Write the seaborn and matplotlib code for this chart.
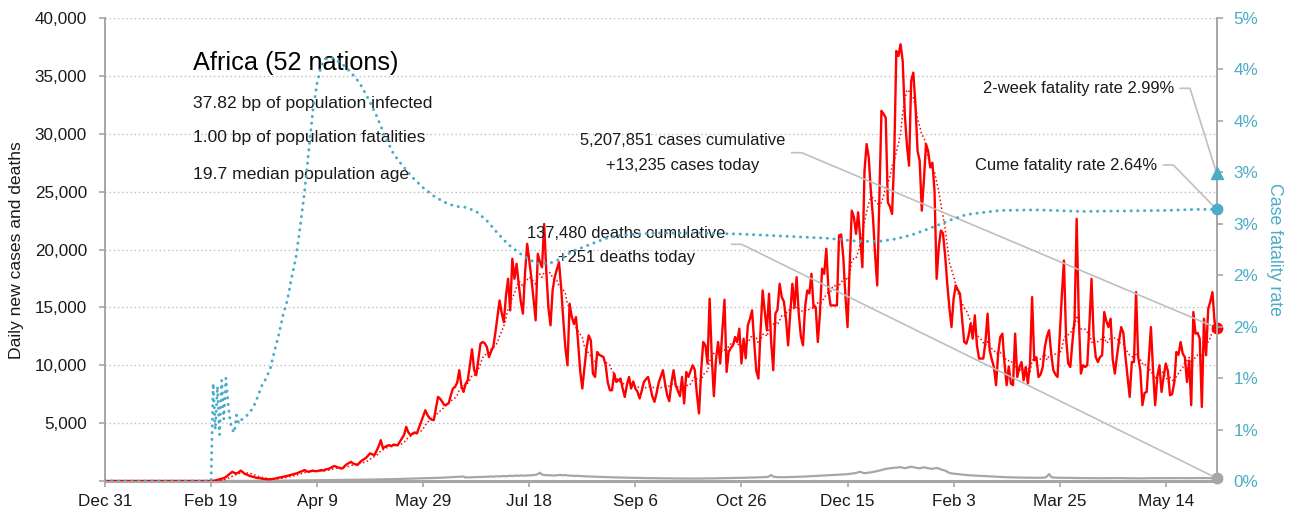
import math
import numpy as np
import pandas as pd
import matplotlib
matplotlib.use("Agg")
import matplotlib.pyplot as plt
import matplotlib.dates as mdates
from matplotlib.ticker import FixedLocator, FuncFormatter
import seaborn as sns

# ---------------------------------------------------------------- data
START = pd.Timestamp("2019-12-31")
QUIET_DAYS = 50          # days from Dec 31 with no reported cases

# daily new cases (thousands), from Feb 19 2020 onwards
cases_k = [
    0.0, 0.02, 0.05, 0.1, 0.15, 0.2, 0.25, 0.35, 0.5, 0.65,
    0.8, 0.7, 0.65, 0.75, 0.9, 0.75, 0.6, 0.55, 0.45, 0.4,
    0.35, 0.3, 0.25, 0.25, 0.2, 0.18, 0.17, 0.15, 0.16, 0.18,
    0.2, 0.25, 0.3, 0.32, 0.37, 0.4, 0.45, 0.5, 0.55, 0.6,
    0.65, 0.7, 0.8, 0.85, 0.95, 0.85, 0.8, 0.85, 0.9, 0.85,
    0.86, 0.9, 0.95, 0.9, 1.0, 1.03, 1.1, 1.2, 1.3, 1.23,
    1.15, 1.1, 1.09, 1.3, 1.45, 1.55, 1.66, 1.5, 1.45, 1.38,
    1.6, 1.75, 1.87, 2.0, 2.2, 2.39, 2.3, 2.24, 2.6, 3.0,
    3.53, 2.84, 2.95, 3.05, 3.1, 3.0, 3.15, 3.1, 3.1, 3.4,
    3.7, 4.0, 4.68, 4.2, 3.96, 4.1, 4.2, 4.11, 4.6, 5.11,
    5.6, 6.12, 5.7, 5.43, 5.3, 5.26, 6.3, 7.27, 7.1, 6.84,
    6.55, 6.6, 6.72, 7.4, 7.99, 8.13, 8.5, 9.57, 8.2, 7.7,
    8.4, 8.71, 10.0, 11.38, 9.6, 9.14, 10.5, 11.87, 12.01, 11.9,
    11.58, 10.71, 11.2, 11.58, 12.8, 14.2, 15.6, 14.5, 13.73, 16.0,
    17.47, 14.74, 19.2, 17.47, 18.77, 17.04, 15.5, 14.46, 18.0, 20.49,
    19.05, 17.5, 15.7, 13.88, 19.63, 18.9, 18.47, 22.21, 18.19, 15.0,
    13.45, 16.5, 17.61, 18.3, 18.9, 16.75, 14.0, 11.5, 10.0, 15.32,
    14.2, 13.59, 14.16, 12.0, 9.5, 7.99, 9.8, 11.5, 12.58, 12.15,
    9.28, 8.99, 11.15, 10.9, 10.8, 10.71, 10.0, 8.5, 7.84, 7.84,
    9.28, 8.56, 8.7, 8.85, 8.0, 7.27, 8.3, 8.99, 7.99, 8.6,
    8.0, 7.7, 7.13, 7.8, 8.56, 8.8, 8.99, 8.13, 7.3, 6.84,
    7.6, 8.5, 9.05, 9.57, 8.42, 7.4, 6.9, 8.5, 9.57, 8.28,
    7.8, 7.33, 8.99, 6.7, 9.42, 9.0, 9.5, 10.0, 9.6, 7.5,
    5.84, 9.5, 12.01, 11.72, 10.15, 15.75, 10.71, 7.33, 10.5, 12.01,
    10.15, 13.0, 15.66, 9.42, 11.15, 11.5, 11.72, 12.44, 12.0, 13.16,
    10.15, 12.3, 10.6, 13.45, 14.0, 14.74, 12.01, 9.5, 8.85, 13.0,
    16.46, 14.6, 13.02, 16.18, 12.0, 9.57, 14.46, 14.8, 17.04, 15.89,
    15.5, 14.0, 11.72, 14.5, 17.04, 15.0, 17.61, 14.46, 12.5, 11.72,
    15.02, 16.46, 16.2, 17.9, 15.02, 15.02, 12.01, 14.46, 18.34, 17.9,
    20.06, 16.5, 15.17, 15.17, 15.17, 15.17, 21.21, 21.3, 19.34, 16.0,
    13.3, 18.5, 23.36, 22.8, 21.35, 23.21, 21.0, 18.47, 26.81, 29.11,
    27.95, 25.0, 22.78, 19.5, 16.9, 24.5, 31.98, 31.7, 31.4, 24.08,
    23.7, 23.07, 27.95, 37.15, 36.72, 37.73, 36.29, 31.69, 29.0, 27.24,
    34.57, 35.28, 32.56, 28.53, 27.67, 23.36, 26.0, 29.11, 28.5, 27.09,
    27.5, 25.08, 17.47, 20.2, 21.64, 21.4, 19.5, 17.04, 15.0, 13.3,
    15.75, 16.9, 16.5, 16.18, 14.0, 12.01, 11.87, 12.5, 13.59, 12.3,
    14.31, 11.72, 10.58, 10.58, 10.58, 12.0, 14.46, 11.29, 10.5, 9.85,
    8.28, 11.0, 12.44, 12.73, 10.15, 8.28, 9.9, 8.42, 8.28, 12.73,
    8.99, 9.8, 10.28, 8.7, 9.85, 8.42, 10.1, 15.89, 10.43, 10.7,
    8.99, 9.2, 9.85, 11.58, 12.5, 13.02, 11.01, 9.57, 9.2, 8.99,
    12.58, 16.0, 19.05, 12.44, 10.15, 9.85, 12.0, 13.88, 22.65, 14.16,
    9.28, 10.0, 9.85, 10.0, 13.5, 17.47, 12.5, 10.71, 10.28, 10.7,
    10.86, 14.6, 13.8, 13.3, 14.02, 10.5, 9.28, 10.8, 12.15, 13.3,
    12.8, 10.71, 9.0, 7.27, 10.28, 10.28, 16.32, 10.71, 9.57, 6.55,
    7.6, 7.7, 10.5, 13.3, 9.57, 6.55, 9.0, 10.0, 7.7, 9.0,
    10.15, 9.5, 7.41, 7.5, 8.5, 11.15, 10.9, 12.01, 11.01, 10.7,
    8.56, 10.4, 6.55, 14.6, 12.73, 12.8, 12.3, 6.4, 14.02, 10.86,
    14.88, 15.5, 16.32, 13.73, 13.235,
]

# daily new deaths, same days
deaths = [
    0, 0, 0, 0, 0, 0, 0, 0, 0, 0,
    0, 1, 1, 1, 2, 2, 3, 3, 4, 5,
    5, 6, 7, 8, 9, 10, 12, 14, 15, 17,
    20, 22, 25, 27, 30, 32, 35, 38, 40, 42,
    45, 47, 50, 52, 55, 57, 60, 60, 62, 65,
    65, 68, 70, 72, 75, 75, 78, 80, 82, 85,
    85, 88, 90, 92, 95, 98, 100, 100, 105, 108,
    110, 112, 115, 118, 120, 125, 128, 130, 135, 138,
    140, 145, 148, 150, 155, 160, 165, 170, 175, 180,
    180, 185, 190, 195, 200, 205, 210, 215, 220, 225,
    230, 235, 240, 245, 250, 255, 260, 270, 280, 290,
    300, 310, 320, 330, 340, 350, 360, 370, 380, 390,
    300, 320, 310, 330, 340, 335, 350, 360, 345, 370,
    360, 380, 390, 370, 400, 410, 395, 420, 430, 410,
    440, 450, 430, 460, 470, 450, 480, 470, 460, 490,
    480, 500, 520, 540, 600, 715, 560, 520, 500, 510,
    490, 480, 470, 500, 520, 510, 500, 520, 480, 470,
    460, 450, 440, 455, 430, 420, 410, 400, 395, 390,
    380, 370, 365, 360, 350, 345, 340, 335, 330, 320,
    315, 310, 305, 300, 300, 295, 290, 285, 280, 280,
    275, 270, 265, 260, 260, 255, 250, 250, 245, 245,
    240, 240, 235, 235, 230, 230, 230, 225, 225, 220,
    220, 220, 215, 215, 215, 210, 210, 210, 210, 210,
    215, 215, 220, 220, 225, 225, 230, 230, 235, 240,
    240, 245, 250, 250, 255, 260, 260, 265, 270, 270,
    275, 280, 280, 285, 290, 295, 300, 305, 310, 320,
    330, 340, 350, 400, 520, 380, 350, 340, 330, 330,
    330, 335, 340, 345, 350, 355, 360, 365, 370, 380,
    390, 400, 410, 420, 430, 440, 450, 460, 470, 480,
    490, 500, 510, 520, 530, 540, 550, 560, 570, 580,
    600, 620, 640, 660, 700, 750, 800, 720, 680, 700,
    720, 750, 780, 820, 860, 900, 950, 1000, 1050, 1080,
    1100, 1120, 1150, 1150, 1180, 1200, 1150, 1100, 1150, 1200,
    1230, 1200, 1150, 1120, 1100, 1150, 1180, 1150, 1100, 1080,
    1050, 1100, 1120, 1090, 1000, 950, 900, 800, 700, 660,
    640, 620, 600, 580, 560, 540, 520, 500, 490, 480,
    470, 460, 450, 440, 430, 420, 410, 400, 390, 380,
    370, 360, 350, 340, 330, 325, 320, 315, 310, 305,
    300, 300, 295, 295, 290, 290, 285, 285, 280, 280,
    280, 285, 290, 300, 400, 600, 350, 300, 290, 285,
    280, 280, 275, 275, 270, 270, 265, 265, 260, 260,
    260, 255, 255, 250, 250, 250, 245, 245, 245, 240,
    240, 240, 245, 245, 250, 250, 255, 255, 250, 250,
    245, 245, 240, 240, 235, 235, 230, 230, 230, 235,
    235, 240, 240, 245, 245, 250, 250, 250, 245, 245,
    240, 240, 245, 245, 250, 250, 255, 255, 250, 250,
    245, 245, 250, 250, 255, 255, 260, 260, 255, 255,
    250, 250, 255, 255, 251,
]

# case fatality rate (%), by day offset from Dec 31 2019
cfr_day = [
    0, 50, 51, 52, 53, 54, 55, 56, 57, 58, 59, 60, 61, 62, 63, 64,
    66, 68, 70, 72, 74, 76, 78, 80, 82, 84, 86, 88, 90, 92, 94, 96, 98,
    100, 102, 104, 106, 109, 112, 116, 120, 124, 128, 132, 136, 140,
    145, 150, 155, 160, 165, 170, 175, 180, 185, 190, 195, 200, 205, 210,
    215, 220, 225, 230, 235, 240, 250, 260, 280, 300, 320, 340, 355, 365,
    372, 380, 388, 393, 399, 406, 414, 422, 440, 460, 480, 500, 515, 524,
]
cfr_pct = [
    0, 0, 0.95, 0.5, 0.92, 0.45, 0.98, 0.6, 1.0, 0.76, 0.58, 0.5, 0.47, 0.64, 0.56, 0.59,
    0.62, 0.66, 0.72, 0.82, 0.93, 1.0, 1.1, 1.27, 1.43, 1.62, 1.76, 1.98, 2.17, 2.47, 2.8, 3.2, 3.6,
    3.87, 4.04, 4.1, 4.12, 4.09, 4.05, 3.97, 3.87, 3.72, 3.55, 3.35, 3.18, 3.07,
    2.95, 2.85, 2.77, 2.71, 2.67, 2.66, 2.62, 2.53, 2.41, 2.30, 2.22, 2.15, 2.11, 2.12,
    2.16, 2.23, 2.27, 2.31, 2.35, 2.38, 2.40, 2.41, 2.41, 2.40, 2.38, 2.36, 2.33, 2.33,
    2.35, 2.39, 2.45, 2.49, 2.54, 2.59, 2.61, 2.63, 2.635, 2.62, 2.625, 2.63, 2.64, 2.64,
]

region_title = "Africa (52 nations)"
region_facts = [
    "37.82 bp of population infected",
    "1.00 bp of population fatalities",
    "19.7 median population age",
]
cases_cumulative = 5207851
deaths_cumulative = 137480
cfr_two_week = 2.99
cfr_cumulative = 2.64

assert len(cases_k) == len(deaths)
assert len(cfr_day) == len(cfr_pct)

# ---------------------------------------------------------------- frames
n_days = QUIET_DAYS + len(cases_k)
dates = START + pd.to_timedelta(np.arange(n_days), unit="D")
daily = pd.DataFrame({
    "date": dates,
    "cases": np.concatenate([np.zeros(QUIET_DAYS), np.array(cases_k) * 1000]),
    "deaths": np.concatenate([np.zeros(QUIET_DAYS), np.array(deaths, float)]),
})
daily["cases_avg"] = daily["cases"].rolling(7, min_periods=1).mean()
cfr = pd.DataFrame({"date": START + pd.to_timedelta(cfr_day, unit="D"), "cfr": cfr_pct})

last_date = daily["date"].iloc[-1]
last_cases = daily["cases"].iloc[-1]
last_deaths = daily["deaths"].iloc[-1]

# ---------------------------------------------------------------- style
RED = "#FF0000"
GREY = "#A6A6A6"
TEAL = "#4BACC6"
LEADER = "#BFBFBF"
INK = "#1A1A1A"
FONT = ["Liberation Sans", "DejaVu Sans"]

sns.set_theme(style="white")
plt.rcParams["font.family"] = FONT

fig = plt.figure(figsize=(12.96, 5.22), dpi=100)
ax = fig.add_subplot(111)
fig.subplots_adjust(left=0.0810, right=0.9388, bottom=0.0785, top=0.9655)
ax2 = ax.twinx()

# ---------------------------------------------------------------- lines
sns.lineplot(data=daily, x="date", y="deaths", ax=ax, color=GREY, linewidth=1.6, zorder=2)
sns.lineplot(data=daily, x="date", y="cases_avg", ax=ax, color=RED, linewidth=1.1, zorder=3)
ax.lines[-1].set_linestyle((0, (1, 1.6)))
sns.lineplot(data=daily, x="date", y="cases", ax=ax, color=RED, linewidth=1.7, zorder=4)

sns.lineplot(data=cfr, x="date", y="cfr", ax=ax2, color=TEAL, linewidth=2.1, zorder=3)
cfr_line = ax2.lines[-1]
cfr_line.set_linestyle((0, (0.1, 2.2)))
cfr_line.set_dash_capstyle("round")

# end-of-series markers
ax.plot([last_date], [last_cases], "o", color=RED, ms=7.5, clip_on=False, zorder=6)
ax.plot([last_date], [last_deaths], "o", color=GREY, ms=7.5, clip_on=False, zorder=6)
ax2.plot([last_date], [cfr_two_week], "^", color=TEAL, ms=8.5, clip_on=False, zorder=6)
ax2.plot([last_date], [cfr_cumulative], "o", color=TEAL, ms=7.5, clip_on=False, zorder=6)

# ---------------------------------------------------------------- axes
ax.set_xlim(START, last_date)
ax.set_ylim(0, 40000)
ax2.set_ylim(0, 4.5)

xticks = [START + pd.Timedelta(days=50 * k) for k in range(11)]
ax.xaxis.set_major_locator(FixedLocator(mdates.date2num(xticks)))
ax.xaxis.set_major_formatter(FuncFormatter(
    lambda v, _: f"{mdates.num2date(v):%b} {mdates.num2date(v).day}"))

ax.yaxis.set_major_locator(FixedLocator(np.arange(0, 40001, 5000)))
ax.yaxis.set_major_formatter(FuncFormatter(lambda v, _: "" if v == 0 else f"{v:,.0f}"))
ax2.yaxis.set_major_locator(FixedLocator(np.linspace(0, 4.5, 10)))
ax2.yaxis.set_major_formatter(FuncFormatter(lambda v, _: f"{math.floor(v + 0.5 + 1e-9):.0f}%"))

ax.set_xlabel("")
ax.yaxis.grid(True, linestyle=(0, (1, 2)), color="#BDBDBD", linewidth=1.0)
ax.xaxis.grid(False)
ax2.grid(False)
ax.set_axisbelow(True)

for a in (ax, ax2):
    a.spines["top"].set_visible(False)
ax.spines["right"].set_visible(False)
ax2.spines["left"].set_visible(False)
ax2.spines["bottom"].set_visible(False)
ax.spines["left"].set_color(GREY)
ax.spines["left"].set_linewidth(1.4)
ax.spines["bottom"].set_color(GREY)
ax.spines["bottom"].set_linewidth(2.2)
ax2.spines["right"].set_color(GREY)
ax2.spines["right"].set_linewidth(1.4)

ax.tick_params(axis="x", direction="out", length=4, width=1.2, color=GREY,
               labelsize=12.3, labelcolor=INK, pad=5, bottom=True)
ax.tick_params(axis="y", direction="out", length=4, width=1.2, color=GREY,
               labelsize=12.3, labelcolor=INK, pad=9, left=True)
ax2.tick_params(axis="y", direction="out", length=4, width=1.2, color=GREY,
                labelsize=12.3, labelcolor=TEAL, pad=8, right=True)

ax.set_ylabel("Daily new cases and deaths", fontsize=12.6, color=INK,
              rotation=90, ha="center", va="center", rotation_mode="default")
ax.yaxis.set_label_coords(-0.0792, 0.499)
ax2.set_ylabel("Case fatality rate", fontsize=12.8, color=TEAL,
               rotation=270, ha="center", va="center", rotation_mode="default")
ax2.yaxis.set_label_coords(1.0524, 0.499)

# ---------------------------------------------------------------- text
ax.text(0.0792, 0.903, region_title, transform=ax.transAxes,
        fontsize=18.2, color="black", ha="left", va="center", zorder=7)
for fy, line in zip((0.816, 0.741, 0.663), region_facts):
    ax.text(0.0792, fy, line, transform=ax.transAxes,
            fontsize=12.6, color=INK, ha="left", va="center", zorder=7)

note = dict(transform=ax.transAxes, fontsize=11.9, color=INK, va="center", zorder=7)
ax.text(0.520, 0.7365, f"{cases_cumulative:,} cases cumulative", ha="center", **note)
ax.text(0.520, 0.6825, f"+{last_cases:,.0f} cases today", ha="center", **note)
ax.text(0.469, 0.5356, f"{deaths_cumulative:,} deaths cumulative", ha="center", **note)
ax.text(0.469, 0.4838, f"+{last_deaths:,.0f} deaths today", ha="center", **note)
ax.text(0.9616, 0.8467, f"2-week fatality rate {cfr_two_week:.2f}%", ha="right", **note)
ax.text(0.9463, 0.6825, f"Cume fatality rate {cfr_cumulative:.2f}%", ha="right", **note)


def leader(start_frac, target_axis, target_xy, stub=10):
    """Short horizontal stub from a label, then a straight run to the marker."""
    sx, sy = ax.transAxes.transform(start_frac)
    ex, ey = target_axis.transData.transform((mdates.date2num(target_xy[0]), target_xy[1]))
    ang = math.degrees(math.atan2(sy - ey, (sx + stub) - ex))
    ax.annotate("", xy=(mdates.date2num(target_xy[0]), target_xy[1]),
                xycoords=target_axis.transData, xytext=start_frac,
                textcoords=ax.transAxes, annotation_clip=False,
                arrowprops=dict(arrowstyle="-", color=LEADER, lw=1.2,
                                shrinkA=0, shrinkB=0,
                                connectionstyle=f"angle,angleA=0,angleB={ang},rad=0"),
                zorder=5)


leader((0.6177, 0.7091), ax, (last_date, last_cases))
leader((0.5637, 0.5112), ax, (last_date, last_deaths))
leader((0.9670, 0.8482), ax2, (last_date, cfr_two_week))
leader((0.9520, 0.6825), ax2, (last_date, cfr_cumulative))

fig.savefig("out.png", dpi=100)
